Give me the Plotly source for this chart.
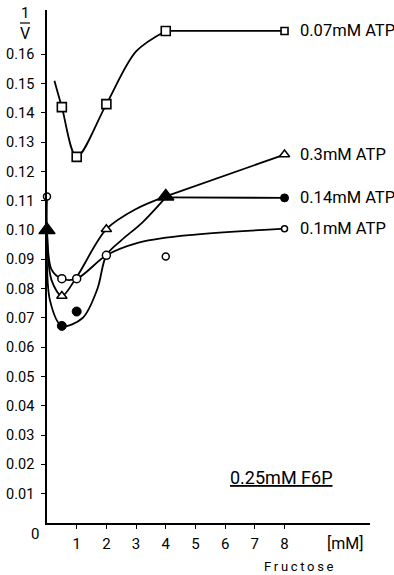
import plotly.graph_objects as go

# ---------------- data ----------------
# marker points
sq_x = [0.5, 1, 2, 4, 8]                     # 0.07 mM ATP
sq_y = [0.142, 0.125, 0.143, 0.168, 0.168]
tri_x = [0, 0.5, 2, 4, 8]                    # 0.3 mM ATP
tri_y = [0.100, 0.0775, 0.1003, 0.1115, 0.1258]
tri_filled = [True, False, False, True, False]
fc_x = [0.5, 1, 8]                           # 0.14 mM ATP
fc_y = [0.0673, 0.0722, 0.111]
oc_x = [0, 0.5, 1, 2, 4, 8]                  # 0.1 mM ATP
oc_y = [0.1115, 0.0834, 0.0834, 0.0914, 0.091, 0.1005]

# hand-drawn fitted curves (knots)
sq_cx = [0.25, 0.5, 1, 2, 3, 4]
sq_cy = [0.151, 0.142, 0.125, 0.143, 0.161, 0.168]
sq_sx = [4, 8]
sq_sy = [0.168, 0.168]
tri_cx = [0, 0.15, 0.5, 1, 2, 3, 4]
tri_cy = [0.100, 0.083, 0.0775, 0.084, 0.1003, 0.1072, 0.1115]
tri_sx = [4, 8]
tri_sy = [0.1115, 0.1258]
fc_cx = [0, 0.1, 0.5, 1.2, 1.7, 2, 2.5, 3.2, 4]
fc_cy = [0.100, 0.076, 0.0673, 0.070, 0.080, 0.0914, 0.0965, 0.1025, 0.1112]
fc_sx = [4, 8]
fc_sy = [0.1112, 0.111]
oc_cx = [0, 0, 0.15, 0.5, 1, 2, 3, 4.5, 8]
oc_cy = [0.1115, 0.100, 0.0866, 0.0834, 0.0834, 0.0914, 0.0955, 0.098, 0.1005]

labels = ["0.07mM ATP", "0.3mM ATP", "0.14mM ATP", "0.1mM ATP"]
label_y = [0.168, 0.1258, 0.111, 0.1005]

y_ticks = [0.01, 0.02, 0.03, 0.04, 0.05, 0.06, 0.07, 0.08, 0.09, 0.10,
           0.11, 0.12, 0.13, 0.14, 0.15, 0.16]
y_ticktext = ["0.01", "0.02", "0.03", "0.04", "0.05", "0.06", "0.07", "0.08",
              "0.09", "0.10", "0.11", "0.12", "0.13", "0.14", "0.15", "0.16"]
x_ticks = [1, 2, 3, 4, 5, 6, 7, 8]

# ---------------- layout geometry ----------------
W, H = 394, 575
ML, MR, MT, MB = 47, 24, 10, 52
PW, PH = W - ML - MR, H - MT - MB
XR = [0, PW / 29.69]
YR = [0, PH / 2929.0]

FONT = "Roboto, sans-serif"


def px(x):
    return (x - ML) / PW


def py(y):
    return (H - MB - y) / PH


CURVE = dict(color="black", width=1.8, shape="spline", smoothing=0.9)
STRAIGHT = dict(color="black", width=1.8)

fig = go.Figure()
for cx, cy in [(sq_cx, sq_cy), (tri_cx, tri_cy), (fc_cx, fc_cy), (oc_cx, oc_cy)]:
    fig.add_trace(go.Scatter(x=cx, y=cy, mode="lines", line=CURVE,
                             hoverinfo="skip", showlegend=False))
for sx, sy in [(sq_sx, sq_sy), (tri_sx, tri_sy), (fc_sx, fc_sy)]:
    fig.add_trace(go.Scatter(x=sx, y=sy, mode="lines", line=STRAIGHT,
                             hoverinfo="skip", showlegend=False))

fig.add_trace(go.Scatter(
    x=sq_x, y=sq_y, mode="markers", showlegend=False, cliponaxis=False,
    marker=dict(symbol="square", size=[9, 9, 9, 9, 7], color="white", opacity=1,
                line=dict(color="black", width=1.6))))
fig.add_trace(go.Scatter(
    x=oc_x, y=oc_y, mode="markers", showlegend=False, cliponaxis=False,
    marker=dict(symbol="circle", size=[7, 8, 8, 8, 7, 6], color="white", opacity=1,
                line=dict(color="black", width=1.5))))
fig.add_trace(go.Scatter(
    x=tri_x, y=tri_y, mode="markers", showlegend=False, cliponaxis=False,
    marker=dict(symbol="triangle-up", opacity=1,
                size=[14 if f else 9 for f in tri_filled],
                color=["black" if f else "white" for f in tri_filled],
                line=dict(color="black", width=1.5))))
fig.add_trace(go.Scatter(
    x=fc_x, y=fc_y, mode="markers", showlegend=False, cliponaxis=False,
    marker=dict(symbol="circle", size=[9, 9, 8], color="black", opacity=1,
                line=dict(color="black", width=1))))

ann = []
for t, yv in zip(labels, label_y):
    ann.append(dict(x=8.45, y=yv, xref="x", yref="y", text=t, showarrow=False,
                    xanchor="left", yanchor="middle",
                    font=dict(size=16.5, color="black", family=FONT)))


def note(x, y, text, size, **kw):
    return dict(x=px(x), y=py(y), xref="paper", yref="paper", text=text,
                showarrow=False, xanchor="center", yanchor="middle",
                font=dict(size=size, color="black", family=FONT), **kw)


ann += [
    note(25, 13, "1", 15),
    note(25, 33, "V", 16),
    note(35, 534, "0", 15),
    note(345, 543, "[mM]", 16),
    note(299, 566, "F\u2009r\u2009u\u2009c\u2009t\u2009o\u2009s\u2009e", 13),
    note(281, 477, "<u>0.25mM F6P</u>", 18),
]

fig.update_layout(
    width=W, height=H, margin=dict(l=ML, r=MR, t=MT, b=MB),
    plot_bgcolor="white", paper_bgcolor="white",
    annotations=ann,
    shapes=[dict(type="line", xref="paper", yref="paper",
                 x0=px(20), x1=px(30), y0=py(23), y1=py(23),
                 line=dict(color="black", width=1.2))],
    xaxis=dict(range=XR, showgrid=False, zeroline=False, showline=True,
               automargin=False,
               linecolor="black", linewidth=1.5, ticks="outside", ticklen=4,
               tickwidth=1.2, tickcolor="black", tickvals=x_ticks,
               ticklabelstandoff=2,
               tickfont=dict(size=15, color="black", family=FONT)),
    yaxis=dict(range=YR, showgrid=False, zeroline=False, showline=True,
               automargin=False,
               linecolor="black", linewidth=1.5, ticks="outside", ticklen=4,
               tickwidth=1.2, tickcolor="black", tickvals=y_ticks,
               ticktext=y_ticktext, ticklabelstandoff=4,
               tickfont=dict(size=14.5, color="black", family=FONT)),
)

fig.write_html("out.html", config={"displayModeBar": False},
               post_script="document.body.style.margin='0';")
